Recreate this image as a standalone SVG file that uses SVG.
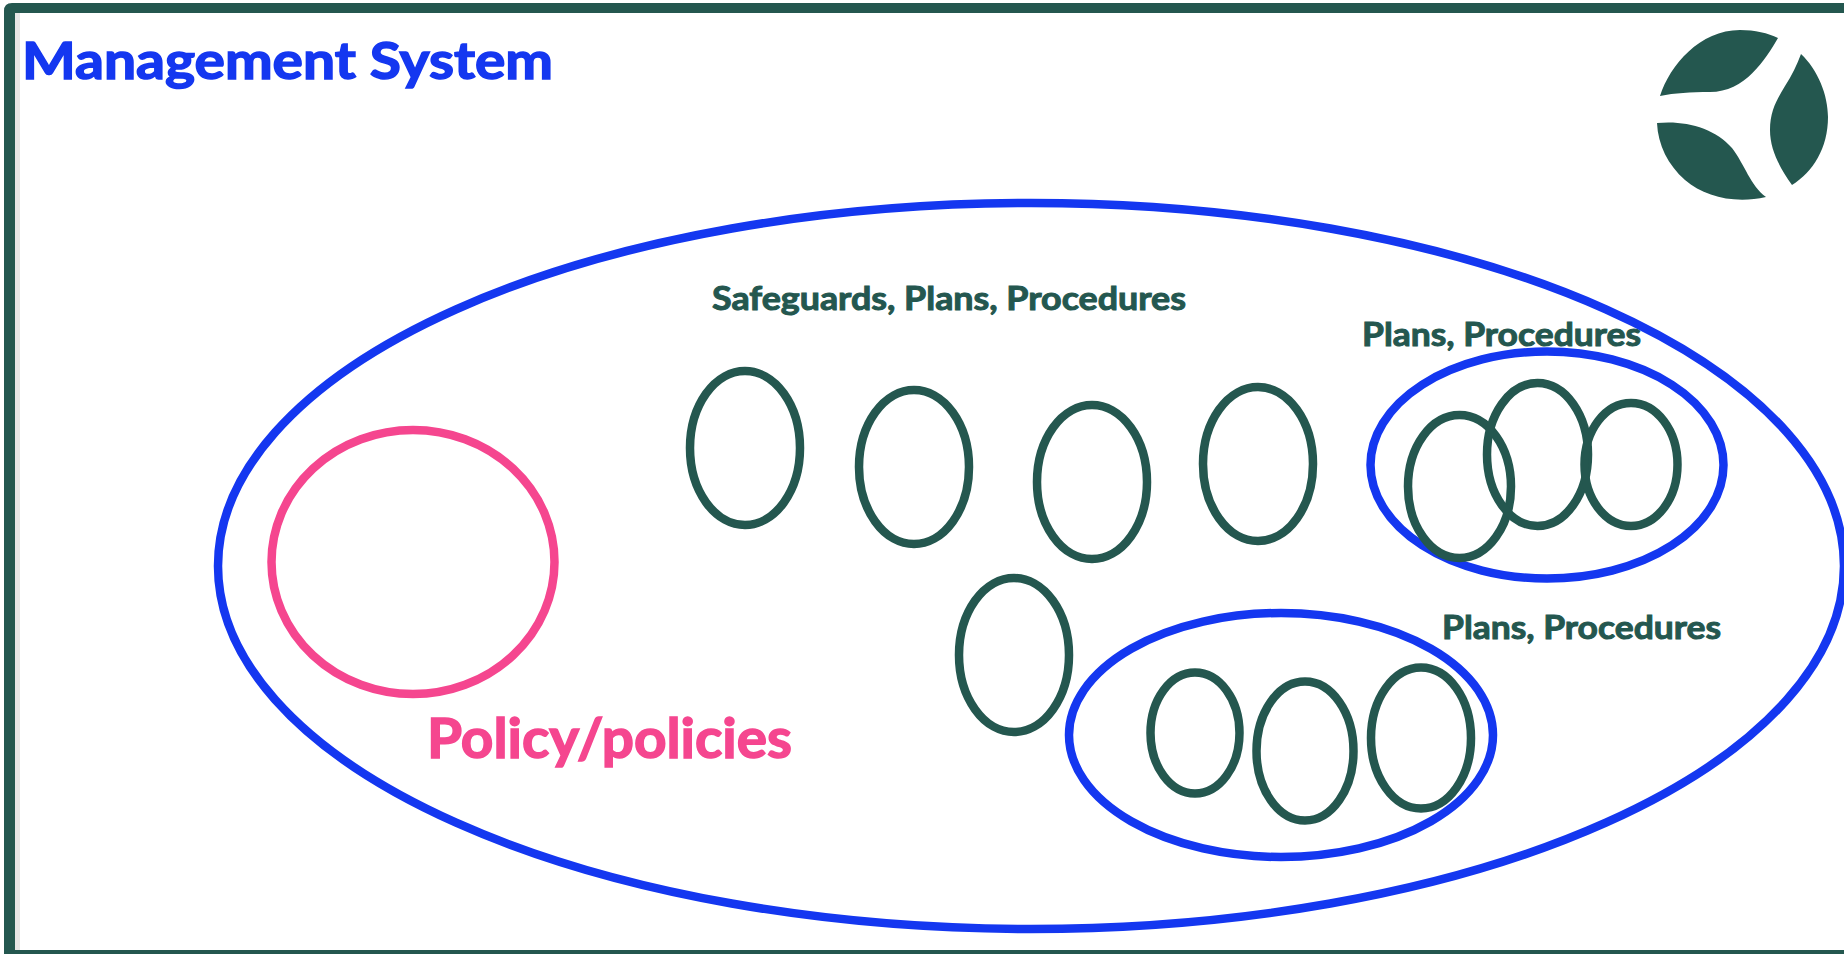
<svg xmlns="http://www.w3.org/2000/svg" width="1844" height="954" viewBox="0 0 1844 954">
<style>
.t{font-family:Lato,"Liberation Sans",sans-serif;font-weight:700;paint-order:stroke}
.b{fill:none;stroke:#1437f0;stroke-width:8.500}
.g{fill:none;stroke:#24574f;stroke-width:8.500}
.p{fill:none;stroke:#f5468f;stroke-width:8.500}
.l{fill:#24574f;stroke:#24574f;stroke-width:1;font-size:33px}
.m{fill:#24574f}
</style>
<rect width="1844" height="954" fill="#fff"/>
<g id="frame">
<rect x="15" y="13" width="5" height="937" fill="#e6e6e6"/>
<path fill="#24574f" fill-rule="evenodd" d="M12 3H1844V954H4V11Q4 3 12 3ZM15 13V950H1844V13Z"/>
</g>
<g id="title"><text class="t" x="22" y="79" font-size="52" fill="#1437f0" stroke="#1437f0" stroke-width="1.500" textLength="531" lengthAdjust="spacingAndGlyphs">Management System</text></g>
<g id="logo">
<path class="m" d="M1660 96C1670 65 1700 30 1740 30C1755 30 1768 33 1778 38C1765 60 1745 92 1710 92C1690 92 1675 93 1660 96Z"/>
<path class="m" d="M1801 54C1818 70 1828 95 1828 117C1828 148 1813 172 1792 185C1780 168 1770 150 1770 130C1770 110 1778 98 1785 86C1792 75 1797 65 1801 54Z"/>
<path class="m" d="M1657 123C1685 120 1715 128 1732 148C1745 165 1750 185 1766 197C1735 204 1705 197 1685 180C1668 165 1658 145 1657 123Z"/>
</g>
<g id="management-system"><ellipse class="b" cx="1031" cy="566" rx="813" ry="363"/></g>
<g id="policy"><ellipse class="p" cx="413" cy="562" rx="141.500" ry="132"/>
<text class="t" x="427" y="758" font-size="56" fill="#f5468f" stroke="#f5468f" stroke-width="1.500" textLength="365" lengthAdjust="spacingAndGlyphs">Policy/policies</text></g>
<g id="safeguards">
<text class="t l" x="712" y="310" textLength="474" lengthAdjust="spacingAndGlyphs">Safeguards, Plans, Procedures</text>
<ellipse class="g" cx="745" cy="448" rx="55" ry="77"/>
<ellipse class="g" cx="914" cy="467" rx="55" ry="77"/>
<ellipse class="g" cx="1092" cy="482" rx="55" ry="77"/>
<ellipse class="g" cx="1258" cy="464" rx="55" ry="77"/>
<ellipse class="g" cx="1014" cy="655" rx="55" ry="77"/>
</g>
<g id="plans-upper">
<ellipse class="b" cx="1547" cy="465" rx="176.500" ry="113.500"/>
<ellipse class="g" cx="1459.5" cy="486.5" rx="51.500" ry="71.500"/>
<ellipse class="g" cx="1537.5" cy="454.5" rx="50.500" ry="71.500"/>
<ellipse class="g" cx="1631" cy="464.5" rx="46.500" ry="61.500"/>
<text class="t l" x="1362" y="346" textLength="279" lengthAdjust="spacingAndGlyphs">Plans, Procedures</text>
</g>
<g id="plans-lower">
<ellipse class="b" cx="1281" cy="735" rx="212" ry="122"/>
<ellipse class="g" cx="1195" cy="733" rx="44.500" ry="60.500"/>
<ellipse class="g" cx="1305" cy="751" rx="48.500" ry="69.500"/>
<ellipse class="g" cx="1421" cy="738" rx="50" ry="70.500"/>
<text class="t l" x="1442" y="639" textLength="279" lengthAdjust="spacingAndGlyphs">Plans, Procedures</text>
</g>
</svg>
